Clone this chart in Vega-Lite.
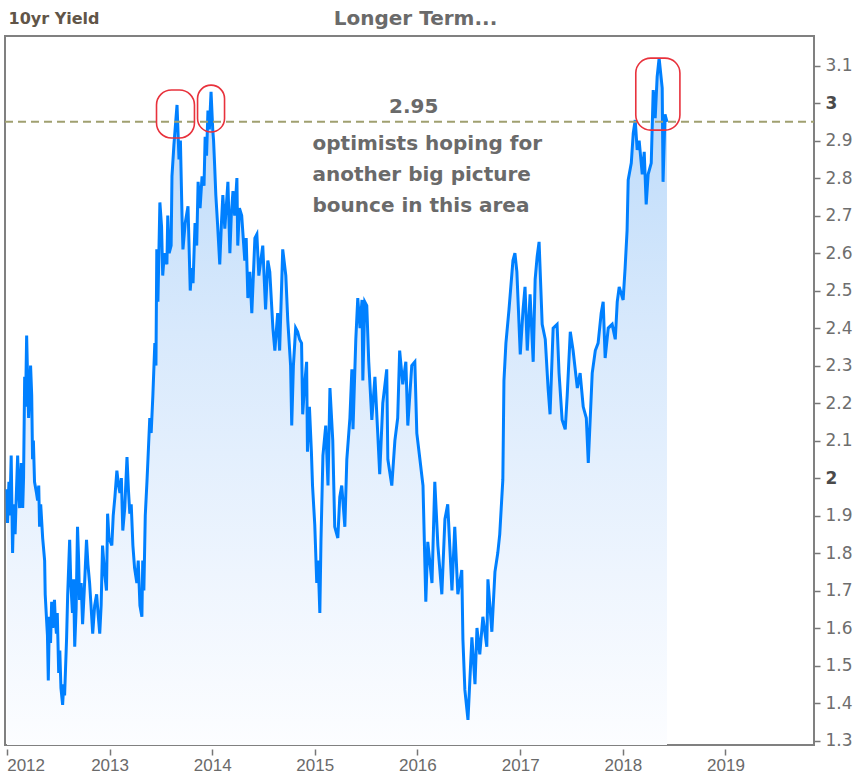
{
  "$schema": "https://vega.github.io/schema/vega-lite/v6.json",
  "width": 809,
  "height": 709,
  "autosize": {"type": "none"},
  "padding": {"left": 5, "top": 36, "right": 40, "bottom": 35},
  "background": "white",
  "config": {"view": {"stroke": "#808080", "strokeWidth": 2}, "axisY": {"labelOverlap": false, "labelBound": false}, "axisX": {"labelOverlap": false, "labelBound": false}},
  "datasets": {
    "yld": [
      {"d":"2012-01-02","v":1.97},{"d":"2012-01-04","v":1.88},{"d":"2012-01-09","v":1.99},{"d":"2012-01-12","v":1.90},{"d":"2012-01-17","v":2.06},{"d":"2012-01-22","v":1.80},{"d":"2012-01-26","v":1.93},{"d":"2012-01-31","v":1.85},{"d":"2012-02-04","v":1.95},{"d":"2012-02-09","v":2.06},{"d":"2012-02-13","v":1.96},{"d":"2012-02-16","v":1.92},{"d":"2012-02-22","v":2.04},{"d":"2012-02-27","v":1.92},{"d":"2012-03-01","v":2.00},{"d":"2012-03-05","v":2.27},{"d":"2012-03-08","v":2.19},{"d":"2012-03-12","v":2.38},{"d":"2012-03-15","v":2.28},{"d":"2012-03-19","v":2.16},{"d":"2012-03-26","v":2.30},{"d":"2012-03-30","v":2.22},{"d":"2012-04-02","v":2.05},{"d":"2012-04-05","v":2.10},{"d":"2012-04-09","v":1.99},{"d":"2012-04-16","v":1.96},{"d":"2012-04-20","v":1.94},{"d":"2012-04-24","v":1.98},{"d":"2012-04-27","v":1.87},{"d":"2012-05-01","v":1.93},{"d":"2012-05-08","v":1.84},{"d":"2012-05-15","v":1.78},{"d":"2012-05-17","v":1.69},{"d":"2012-05-22","v":1.62},{"d":"2012-05-25","v":1.58},{"d":"2012-05-28","v":1.46},{"d":"2012-06-01","v":1.63},{"d":"2012-06-05","v":1.56},{"d":"2012-06-09","v":1.67},{"d":"2012-06-13","v":1.60},{"d":"2012-06-19","v":1.675},{"d":"2012-06-22","v":1.62},{"d":"2012-06-26","v":1.585},{"d":"2012-06-29","v":1.64},{"d":"2012-07-04","v":1.48},{"d":"2012-07-08","v":1.54},{"d":"2012-07-12","v":1.44},{"d":"2012-07-18","v":1.395},{"d":"2012-07-22","v":1.45},{"d":"2012-07-25","v":1.42},{"d":"2012-08-01","v":1.57},{"d":"2012-08-05","v":1.69},{"d":"2012-08-12","v":1.835},{"d":"2012-08-16","v":1.72},{"d":"2012-08-22","v":1.64},{"d":"2012-08-26","v":1.73},{"d":"2012-08-30","v":1.55},{"d":"2012-09-04","v":1.65},{"d":"2012-09-09","v":1.87},{"d":"2012-09-13","v":1.78},{"d":"2012-09-16","v":1.675},{"d":"2012-09-22","v":1.72},{"d":"2012-09-27","v":1.61},{"d":"2012-10-03","v":1.70},{"d":"2012-10-11","v":1.835},{"d":"2012-10-16","v":1.77},{"d":"2012-10-22","v":1.72},{"d":"2012-10-27","v":1.66},{"d":"2012-11-02","v":1.585},{"d":"2012-11-09","v":1.66},{"d":"2012-11-16","v":1.69},{"d":"2012-11-21","v":1.64},{"d":"2012-11-27","v":1.585},{"d":"2012-12-02","v":1.66},{"d":"2012-12-07","v":1.82},{"d":"2012-12-14","v":1.75},{"d":"2012-12-21","v":1.70},{"d":"2012-12-25","v":1.905},{"d":"2012-12-30","v":1.84},
      {"d":"2013-01-09","v":1.82},{"d":"2013-01-14","v":1.90},{"d":"2013-01-20","v":1.95},{"d":"2013-01-27","v":2.02},{"d":"2013-02-02","v":1.98},{"d":"2013-02-07","v":1.96},{"d":"2013-02-12","v":2.00},{"d":"2013-02-17","v":1.86},{"d":"2013-02-24","v":1.92},{"d":"2013-03-04","v":2.056},{"d":"2013-03-09","v":1.97},{"d":"2013-03-14","v":1.905},{"d":"2013-03-19","v":1.93},{"d":"2013-03-25","v":1.82},{"d":"2013-03-31","v":1.76},{"d":"2013-04-08","v":1.72},{"d":"2013-04-13","v":1.78},{"d":"2013-04-19","v":1.66},{"d":"2013-04-26","v":1.63},{"d":"2013-04-29","v":1.78},{"d":"2013-05-03","v":1.70},{"d":"2013-05-08","v":1.90},{"d":"2013-05-14","v":1.99},{"d":"2013-05-17","v":2.04},{"d":"2013-05-24","v":2.16},{"d":"2013-05-29","v":2.12},{"d":"2013-06-04","v":2.22},{"d":"2013-06-11","v":2.36},{"d":"2013-06-15","v":2.30},{"d":"2013-06-18","v":2.61},{"d":"2013-06-22","v":2.47},{"d":"2013-06-29","v":2.735},{"d":"2013-07-05","v":2.67},{"d":"2013-07-09","v":2.54},{"d":"2013-07-15","v":2.60},{"d":"2013-07-24","v":2.57},{"d":"2013-07-27","v":2.70},{"d":"2013-08-01","v":2.60},{"d":"2013-08-08","v":2.62},{"d":"2013-08-11","v":2.805},{"d":"2013-08-18","v":2.89},{"d":"2013-08-29","v":2.995},{"d":"2013-09-05","v":2.85},{"d":"2013-09-10","v":2.90},{"d":"2013-09-16","v":2.69},{"d":"2013-09-19","v":2.61},{"d":"2013-09-27","v":2.68},{"d":"2013-10-07","v":2.725},{"d":"2013-10-15","v":2.50},{"d":"2013-10-20","v":2.56},{"d":"2013-10-25","v":2.52},{"d":"2013-11-01","v":2.68},{"d":"2013-11-07","v":2.62},{"d":"2013-11-12","v":2.79},{"d":"2013-11-19","v":2.72},{"d":"2013-11-26","v":2.805},{"d":"2013-12-03","v":2.78},{"d":"2013-12-07","v":2.91},{"d":"2013-12-12","v":2.86},{"d":"2013-12-17","v":2.98},{"d":"2013-12-22","v":2.93},{"d":"2013-12-28","v":3.03},
      {"d":"2014-01-03","v":2.93},{"d":"2014-01-06","v":2.90},{"d":"2014-01-10","v":2.83},{"d":"2014-01-14","v":2.755},{"d":"2014-01-20","v":2.68},{"d":"2014-01-28","v":2.57},{"d":"2014-02-03","v":2.68},{"d":"2014-02-08","v":2.755},{"d":"2014-02-15","v":2.665},{"d":"2014-02-26","v":2.79},{"d":"2014-03-05","v":2.60},{"d":"2014-03-10","v":2.70},{"d":"2014-03-16","v":2.765},{"d":"2014-03-22","v":2.70},{"d":"2014-03-30","v":2.80},{"d":"2014-04-02","v":2.62},{"d":"2014-04-08","v":2.72},{"d":"2014-04-16","v":2.70},{"d":"2014-04-27","v":2.58},{"d":"2014-05-02","v":2.64},{"d":"2014-05-08","v":2.48},{"d":"2014-05-15","v":2.55},{"d":"2014-05-22","v":2.44},{"d":"2014-06-02","v":2.64},{"d":"2014-06-09","v":2.65},{"d":"2014-06-16","v":2.54},{"d":"2014-06-30","v":2.62},{"d":"2014-07-10","v":2.45},{"d":"2014-07-18","v":2.58},{"d":"2014-07-25","v":2.55},{"d":"2014-08-05","v":2.40},{"d":"2014-08-12","v":2.34},{"d":"2014-08-22","v":2.44},{"d":"2014-08-29","v":2.34},{"d":"2014-09-09","v":2.61},{"d":"2014-09-20","v":2.54},{"d":"2014-09-27","v":2.42},{"d":"2014-10-07","v":2.30},{"d":"2014-10-11","v":2.14},{"d":"2014-10-17","v":2.30},{"d":"2014-10-25","v":2.40},{"d":"2014-11-01","v":2.39},{"d":"2014-11-08","v":2.37},{"d":"2014-11-15","v":2.36},{"d":"2014-11-19","v":2.17},{"d":"2014-11-26","v":2.25},{"d":"2014-12-03","v":2.31},{"d":"2014-12-06","v":2.07},{"d":"2014-12-13","v":2.19},{"d":"2014-12-20","v":2.07},{"d":"2014-12-24","v":1.98},
      {"d":"2015-01-01","v":1.875},{"d":"2015-01-08","v":1.72},{"d":"2015-01-13","v":1.78},{"d":"2015-01-19","v":1.64},{"d":"2015-01-23","v":1.83},{"d":"2015-01-30","v":2.06},{"d":"2015-02-09","v":2.14},{"d":"2015-02-17","v":1.98},{"d":"2015-02-24","v":2.24},{"d":"2015-03-06","v":2.10},{"d":"2015-03-13","v":1.87},{"d":"2015-03-24","v":1.84},{"d":"2015-03-31","v":1.95},{"d":"2015-04-07","v":1.98},{"d":"2015-04-18","v":1.87},{"d":"2015-04-25","v":2.05},{"d":"2015-05-06","v":2.16},{"d":"2015-05-13","v":2.29},{"d":"2015-05-17","v":2.13},{"d":"2015-05-27","v":2.37},{"d":"2015-06-03","v":2.48},{"d":"2015-06-11","v":2.40},{"d":"2015-06-18","v":2.475},{"d":"2015-06-21","v":2.26},{"d":"2015-06-28","v":2.47},{"d":"2015-07-05","v":2.46},{"d":"2015-07-12","v":2.31},{"d":"2015-07-23","v":2.155},{"d":"2015-08-03","v":2.27},{"d":"2015-08-13","v":2.12},{"d":"2015-08-20","v":2.01},{"d":"2015-08-31","v":2.20},{"d":"2015-09-14","v":2.29},{"d":"2015-09-18","v":2.05},{"d":"2015-10-02","v":1.98},{"d":"2015-10-13","v":2.10},{"d":"2015-10-23","v":2.16},{"d":"2015-10-30","v":2.34},{"d":"2015-11-10","v":2.25},{"d":"2015-11-21","v":2.31},{"d":"2015-11-28","v":2.14},{"d":"2015-12-12","v":2.30},{"d":"2015-12-23","v":2.31},{"d":"2015-12-30","v":2.12},
      {"d":"2016-01-10","v":2.05},{"d":"2016-01-21","v":1.98},{"d":"2016-01-31","v":1.67},{"d":"2016-02-07","v":1.83},{"d":"2016-02-22","v":1.72},{"d":"2016-03-03","v":1.99},{"d":"2016-03-14","v":1.82},{"d":"2016-03-28","v":1.69},{"d":"2016-04-08","v":1.89},{"d":"2016-04-18","v":1.93},{"d":"2016-05-03","v":1.70},{"d":"2016-05-13","v":1.87},{"d":"2016-05-24","v":1.69},{"d":"2016-06-07","v":1.755},{"d":"2016-06-11","v":1.57},{"d":"2016-06-18","v":1.435},{"d":"2016-06-29","v":1.355},{"d":"2016-07-13","v":1.575},{"d":"2016-07-24","v":1.45},{"d":"2016-07-31","v":1.60},{"d":"2016-08-10","v":1.53},{"d":"2016-08-21","v":1.63},{"d":"2016-09-04","v":1.55},{"d":"2016-09-08","v":1.73},{"d":"2016-09-22","v":1.59},{"d":"2016-10-03","v":1.75},{"d":"2016-10-13","v":1.80},{"d":"2016-10-20","v":1.85},{"d":"2016-10-31","v":1.995},{"d":"2016-11-04","v":2.26},{"d":"2016-11-11","v":2.36},{"d":"2016-11-22","v":2.45},{"d":"2016-12-06","v":2.58},{"d":"2016-12-13","v":2.60},{"d":"2016-12-20","v":2.55},
      {"d":"2017-01-01","v":2.33},{"d":"2017-01-11","v":2.45},{"d":"2017-01-18","v":2.51},{"d":"2017-01-26","v":2.34},{"d":"2017-02-05","v":2.49},{"d":"2017-02-16","v":2.31},{"d":"2017-02-23","v":2.53},{"d":"2017-03-02","v":2.59},{"d":"2017-03-09","v":2.63},{"d":"2017-03-20","v":2.41},{"d":"2017-03-31","v":2.37},{"d":"2017-04-10","v":2.24},{"d":"2017-04-17","v":2.17},{"d":"2017-04-28","v":2.40},{"d":"2017-05-12","v":2.41},{"d":"2017-05-19","v":2.28},{"d":"2017-05-30","v":2.155},{"d":"2017-06-10","v":2.13},{"d":"2017-06-17","v":2.22},{"d":"2017-06-28","v":2.39},{"d":"2017-07-08","v":2.34},{"d":"2017-07-23","v":2.24},{"d":"2017-08-02","v":2.28},{"d":"2017-08-13","v":2.19},{"d":"2017-08-24","v":2.16},{"d":"2017-08-31","v":2.04},{"d":"2017-09-14","v":2.28},{"d":"2017-09-25","v":2.34},{"d":"2017-10-05","v":2.36},{"d":"2017-10-16","v":2.44},{"d":"2017-10-23","v":2.47},{"d":"2017-10-30","v":2.32},{"d":"2017-11-10","v":2.40},{"d":"2017-11-24","v":2.41},{"d":"2017-12-05","v":2.37},{"d":"2017-12-12","v":2.47},{"d":"2017-12-19","v":2.51},
      {"d":"2018-01-02","v":2.475},{"d":"2018-01-09","v":2.56},{"d":"2018-01-16","v":2.66},{"d":"2018-01-20","v":2.795},{"d":"2018-01-31","v":2.84},{"d":"2018-02-07","v":2.92},{"d":"2018-02-14","v":2.955},{"d":"2018-02-21","v":2.875},{"d":"2018-02-28","v":2.90},{"d":"2018-03-11","v":2.81},{"d":"2018-03-18","v":2.87},{"d":"2018-03-25","v":2.73},{"d":"2018-04-01","v":2.81},{"d":"2018-04-12","v":2.84},{"d":"2018-04-19","v":3.035},{"d":"2018-04-26","v":2.96},{"d":"2018-05-03","v":3.07},{"d":"2018-05-10","v":3.12},{"d":"2018-05-21","v":3.04},{"d":"2018-05-24","v":2.79},{"d":"2018-05-31","v":2.97},{"d":"2018-06-07","v":2.95}
    ]
  },
  "encoding": {
    "x": {"field": "d", "type": "temporal", "scale": {"type": "utc", "domain": [{"year": 2011, "month": 12, "date": 26, "utc": true}, {"year": 2019, "month": 11, "date": 12, "utc": true}]},
      "axis": {"orient": "bottom", "format": "%Y", "values": [{"year": 2012, "utc": true}, {"year": 2013, "utc": true}, {"year": 2014, "utc": true}, {"year": 2015, "utc": true}, {"year": 2016, "utc": true}, {"year": 2017, "utc": true}, {"year": 2018, "utc": true}, {"year": 2019, "utc": true}],
        "domain": false, "grid": false, "tickSize": 6, "tickColor": "#777777", "tickWidth": 1.5, "offset": 4, "labelFont": "Liberation Sans", "labelFontSize": 17, "labelColor": "#6a6a6a", "labelPadding": 2, "labelFlush": 3, "labelBaseline": "top", "labelOverlap": false,
        "title": "Longer Term...", "titleX": 410, "titleY": -725, "titleAlign": "center", "titleBaseline": "alphabetic", "titleAngle": 0, "titleFont": "DejaVu Sans", "titleFontSize": 20, "titleFontWeight": "bold", "titleColor": "#6a6a6a"}},
    "y": {"field": "v", "type": "quantitative", "scale": {"domain": [1.288, 3.179], "nice": false, "zero": false},
      "axis": {"orient": "right", "values": [1.3, 1.4, 1.5, 1.6, 1.7, 1.8, 1.9, 2, 2.1, 2.2, 2.3, 2.4, 2.5, 2.6, 2.7, 2.8, 2.9, 3, 3.1], "format": ".1~f", "domain": false, "grid": false, "tickSize": 6, "tickColor": "#777777", "tickWidth": 1.5, "labelFont": "DejaVu Sans", "labelFontSize": 17, "labelColor": {"condition": {"test": "abs(datum.value - round(datum.value)) < 0.001", "value": "#4a4a4a"}, "value": "#6e6e6e"}, "labelFontWeight": {"condition": {"test": "abs(datum.value - round(datum.value)) < 0.001", "value": "bold"}, "value": "normal"}, "labelPadding": 5, "labelOverlap": false, "labelSeparation": 0,
        "title": "10yr Yield", "titleAngle": 0, "titleAlign": "left", "titleBaseline": "alphabetic", "titleX": -806, "titleY": -13, "titleFont": "DejaVu Sans", "titleFontSize": 16, "titleFontWeight": "bold", "titleColor": "#615548"}}
  },
  "layer": [
    {
      "data": {"name": "yld"},
      "mark": {"type": "area", "color": {"gradient": "linear", "x1": 0, "y1": 0, "x2": 0, "y2": 1, "stops": [{"offset": 0, "color": "#b9d9fa"}, {"offset": 0.4, "color": "#d8e9fc"}, {"offset": 0.75, "color": "#eef5fe"}, {"offset": 1, "color": "#fcfdff"}]}},
      "encoding": {"y2": {"datum": 1.288}}
    },
    {
      "data": {"name": "yld"},
      "mark": {"type": "line", "color": "#0080ff", "strokeWidth": 3, "strokeJoin": "miter"},
      "encoding": {}
    },
    {
      "data": {"values": [{"d": "2011-12-26", "d2": "2019-11-12", "v": 2.95}]},
      "mark": {"type": "rule", "color": "#a0a070", "strokeWidth": 2, "strokeDash": [8, 5]},
      "encoding": {"x2": {"field": "d2"}}
    },
    {
      "data": {"values": [
        {"d": "2013-06-17", "d2": "2013-10-30", "v2": 2.907, "v": 3.035},
        {"d": "2013-11-10", "d2": "2014-02-14", "v2": 2.923, "v": 3.048},
        {"d": "2018-02-16", "d2": "2018-07-23", "v2": 2.928, "v": 3.12}
      ]},
      "mark": {"type": "rect", "fillOpacity": 0, "stroke": "#e8323c", "strokeWidth": 1.6, "cornerRadius": 15},
      "encoding": {"x2": {"field": "d2"}, "y2": {"field": "v2"}}
    },
    {
      "data": {"values": [{"d": "2015-12-19", "v": 2.973, "t": "2.95"}]},
      "mark": {"type": "text", "align": "center", "baseline": "alphabetic", "font": "DejaVu Sans", "fontSize": 20, "fontWeight": "bold", "color": "#6a6a6a"},
      "encoding": {"text": {"field": "t"}}
    },
    {
      "data": {"values": [{"d": "2014-12-24", "v": 2.875, "t": "optimists hoping for\nanother big picture\nbounce in this area"}]},
      "mark": {"type": "text", "align": "left", "baseline": "alphabetic", "lineBreak": "\n", "lineHeight": 31, "font": "DejaVu Sans", "fontSize": 20, "fontWeight": "bold", "color": "#6a6a6a"},
      "encoding": {"text": {"field": "t"}}
    }
  ]
}
